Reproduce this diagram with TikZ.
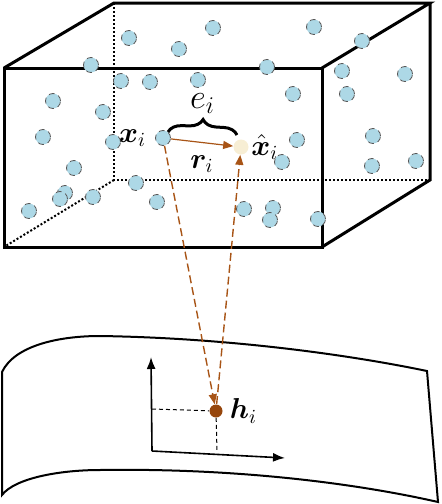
\documentclass[tikz,border=0pt]{standalone}
\usepackage{bm}
\usetikzlibrary{decorations.pathreplacing,arrows.meta}
\definecolor{particleblue}{RGB}{173,216,230}
\definecolor{rust}{RGB}{168,84,22}
\definecolor{embed}{RGB}{150,70,12}
\definecolor{cream}{RGB}{247,238,212}
\begin{document}
\begin{tikzpicture}[
  x=0.5pt, y=-0.5pt,
  font=\Large,
  edge/.style = {line width=1.5pt},
  hiddenedge/.style = {line width=1pt, densely dotted},
  particle/.style = {circle, fill=particleblue, draw=black!65, densely dashed,
                     line width=0.4pt, minimum size=7.5pt, inner sep=0pt},
  recon/.style = {particle, fill=cream, draw=none},
  code/.style = {circle, fill=embed, minimum size=6.5pt, inner sep=0pt},
  resid/.style = {draw=rust, line width=0.6pt, -{Triangle[length=5pt,width=4pt]}},
  proj/.style = {draw=rust, line width=0.7pt, dash pattern=on 4pt off 2pt,
                 -{Triangle[length=5pt,width=4pt]}},
  gap/.style = {decorate, decoration={brace, amplitude=7pt}, line width=1.5pt},
  sheet/.style = {line width=1pt},
  axis/.style = {line width=0.8pt, -{Latex[length=6pt,width=4.5pt]}},
  guide/.style = {line width=0.5pt, dash pattern=on 2pt off 1.5pt},
]
  \useasboundingbox (0,0) rectangle (442,504);

  % box, hidden edges first
  \draw[hiddenedge] (114,3) -- (114,180) -- (430,180);
  \draw[hiddenedge] (114,180) -- (4,247);
  \draw[edge] (4,68) rectangle (322,247);
  \draw[edge] (4,68) -- (114,3) -- (430,3) -- (322,68);
  \draw[edge] (430,3) -- (430,180) -- (322,247);

  % particles
  \foreach \px/\py in {129/38, 213/28, 179/49, 314/27, 362/41, 91/65, 267/67,
      342/71, 405/74, 121/81, 150/82, 198/80, 293/94, 347/94, 53/101, 103/112,
      43/137, 113/142, 297/140, 373/136, 282/162, 372/166, 416/161, 74/168,
      136/183, 65/193, 60/199, 93/197, 157/202, 29/211, 244/209, 273/208,
      270/220, 318/219}
    \node[particle] at (\px,\py) {};

  \node[particle] (xi) at (163,138) {};
  \node[recon] (xhat) at (241,147) {};
  \node[anchor=east] (xilabel) at ([xshift=-1pt]xi.west) {$\bm{x}_i$};
  \node[anchor=west, inner sep=1pt] (xhatlabel) at (xhat.east) {$\hat{\bm{x}}_i$};

  \draw[resid] (xi) -- (xhat) node[midway, below=3pt] (rilabel) {$\bm{r}_i$};
  \draw[gap] (168,132) -- (237,135) node[midway, above=6pt, font=\LARGE] (eilabel) {$e_i$};

  % latent sheet
  \draw[sheet] (2,372) .. controls (15,345) and (60,336) .. (100,336)
    .. controls (230,338) and (350,355) .. (427,371) -- (438,502)
    .. controls (350,482) and (230,468) .. (100,470)
    .. controls (60,470) and (15,478) .. (2,495) -- cycle;

  \coordinate (origin) at (152,451);
  \coordinate (yend) at (151,357);
  \coordinate (xend) at (285,458);
  \draw[axis] (origin) -- (yend);
  \draw[axis] (origin) -- (xend);

  \node[code] (hi) at (216,411) {};
  \node[anchor=west] (hilabel) at (hi.east) {$\bm{h}_i$};
  \coordinate (hy) at (152,409);
  \coordinate (hx) at (217,452);
  \draw[guide] (hy) -- (hi);
  \draw[guide] (hi) -- (hx);

  % projections
  \draw[proj] (xi) -- (hi);
  \draw[proj] (hi) -- (xhat);
\end{tikzpicture}
\end{document}
